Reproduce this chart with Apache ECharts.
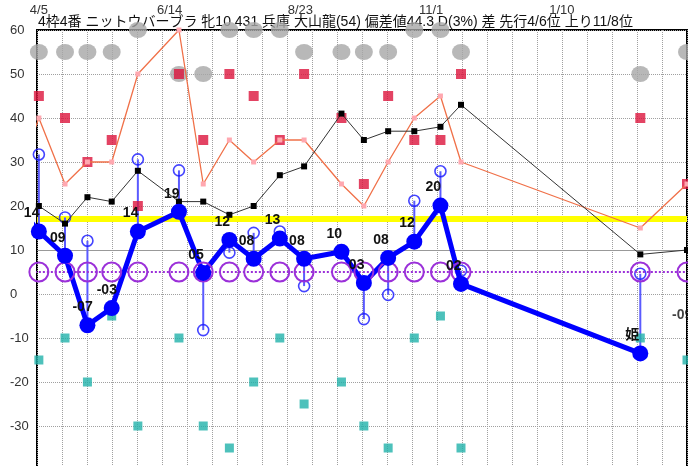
<!DOCTYPE html>
<html>
<head>
<meta charset="utf-8">
<script src="https://cdn.jsdelivr.net/npm/echarts@6/dist/echarts.min.js"></script>
<style>
  html, body { margin: 0; padding: 0; background: #fff; }
  #chart { width: 688px; height: 466px; }
</style>
</head>
<body>
<div id="chart"></div>
<script>
// x = days counted from 4/5, one entry per race
const raceDay = [0, 14, 26, 39, 53, 75, 88, 102, 115, 129, 142, 162, 174, 187, 201, 215, 226, 322, 347]
// the race before the window (lines start from it)
const prevDay = -15
const prevValue = 22

const grayMark = [55, 55, 55, 55, 60, 50, 50, 60, 60, 60, 55, 55, 55, 55, 60, 60, 55, 50, 55]
const redMark = [45, 40, 30, 35, 20, 50, 35, 50, 45, 35, 50, 40, 25, 45, 35, 35, 50, 40, 25]
const orangeLine = [40, 25, 30, 30, 50, 60, 25, 35, 30, 35, 35, 25, 20, 30, 40, 45, 30, 15, 25]
const blackLine = [20, 16, 22, 21, 28, 21, 21, 18, 20, 27, 29, 41, 35, 37, 37, 38, 43, 9, 10]
const purpleMark = [5, 5, 5, 5, 5, 5, 5, 5, 5, 5, 5, 5, 5, 5, 5, 5, 5, 5, 5]
const tealMark = [-15, -10, -20, -5, -30, -10, -30, -35, -20, -10, -25, -20, -30, -35, -10, -5, -35, -10, -15]
// blue: main value (filled) and the hollow one it is tied to
const blueMain = [14.2, 8.7, -7.1, -3.2, 14.2, 18.7, 4.8, 12.3, 8.0, 12.6, 8.0, 9.6, 2.5, 8.2, 11.9, 20.1, 2.3, -13.5]
const blueLabel = ['14', '09', '-07', '-03', '14', '19', '05', '12', '08', '13', '08', '10', '03', '08', '12', '20', '02', '姫']
const blueTop = [31.7, 17.4, 12.1, null, 30.6, 28.1, -8.2, 9.4, 13.9, 14.2, 1.8, null, -5.7, -0.2, 21.2, 27.9, 5.3, 4.6]
// last race: only its label is drawn
const nextValue = -9
const nextLabel = '-09'

const yellowLevel = 17
const solidLevel = 10

const dateTicks = [0, 70, 140, 210, 280, 350]
const dateLabels = ['4/5', '6/14', '8/23', '11/1', '1/10', '3/21']

const titleText = '4枠4番 ニットウバーブラ 牝10 431 兵庫 大山龍(54) 偏差値44.3 D(3%) 差 先行4/6位 上り11/8位'

const FONT = "Arial, 'Liberation Sans', 'Noto Sans CJK JP', sans-serif"
const BLUE = '#0000ff'
const PURPLE = '#9b30d9'

function pairs(vals) {
  return vals.map((v, i) => [raceDay[i], v])
}
function withPrev(vals) {
  return [{ value: [prevDay, prevValue], symbol: 'none', label: { show: false } }].concat(pairs(vals))
}

const tieData = []
const hollowData = []
blueTop.forEach((v, i) => {
  if (v === null) return
  tieData.push([raceDay[i], blueMain[i], v])
  hollowData.push([raceDay[i], v])
})

const chart = echarts.init(document.getElementById('chart'))

const option = {
  backgroundColor: '#fff',
  animation: false,
  title: {
    text: titleText,
    left: 33,
    top: 10,
    z: 0,
    textStyle: { fontSize: 14, fontWeight: 'normal', color: '#111', fontFamily: FONT }
  },
  grid: {
    left: 37,
    top: 30,
    width: 650,
    height: 440,
    outerBoundsMode: 'none',
    show: true,
    borderColor: '#000',
    borderWidth: 2,
    backgroundColor: 'transparent'
  },
  xAxis: [{
    // only draws the vertical grid
    type: 'value',
    min: 0,
    max: 26,
    interval: 1,
    position: 'bottom',
    axisLine: { show: false },
    axisTick: { show: false },
    axisLabel: { show: false },
    splitLine: { show: true, lineStyle: { color: '#a0a0a0', type: 'dotted', width: 1 } }
  }, {
    type: 'value',
    min: -1,
    max: 347,
    position: 'top',
    axisLine: { show: false },
    axisTick: { show: false },
    splitLine: { show: false },
    axisLabel: {
      customValues: dateTicks,
      margin: 13,
      fontSize: 13,
      color: '#333',
      fontFamily: FONT,
      formatter: v => dateLabels[dateTicks.indexOf(v)]
    }
  }],
  yAxis: {
    type: 'value',
    min: -40,
    max: 60,
    interval: 10,
    axisLine: { show: false },
    axisTick: { show: false },
    axisLabel: { align: 'left', margin: 27, fontSize: 13, color: '#333', fontFamily: FONT, showMinLabel: false },
    splitLine: { lineStyle: { color: '#a0a0a0', type: 'dotted', width: 1 } }
  },
  series: [{
    name: 'purple',
    type: 'line',
    xAxisIndex: 1,
    clip: false,
    data: [{ value: [prevDay, purpleMark[0]], symbol: 'none' }].concat(pairs(purpleMark)),
    symbol: 'circle',
    symbolSize: 19,
    lineStyle: { color: PURPLE, type: 'dotted', width: 2 },
    itemStyle: { color: 'rgba(0,0,0,0)', borderColor: PURPLE, borderWidth: 2 },
    markLine: {
      silent: true,
      z: 1,
      symbol: 'none',
      label: { show: false },
      data: [
        { yAxis: yellowLevel, lineStyle: { color: '#ffff00', width: 6, type: 'solid' } },
        { yAxis: solidLevel, lineStyle: { color: '#999', width: 1, type: 'solid' } }
      ]
    }
  }, {
    name: 'gray',
    type: 'scatter',
    xAxisIndex: 1,
    clip: false,
    data: pairs(grayMark),
    symbol: 'circle',
    symbolSize: [18, 16],
    itemStyle: { color: '#a6a6a6' }
  }, {
    name: 'orange',
    type: 'line',
    xAxisIndex: 1,
    clip: false,
    data: withPrev(orangeLine),
    symbol: 'rect',
    symbolSize: 5,
    lineStyle: { color: '#f07048', width: 1.3 },
    itemStyle: { color: '#ffa8b0' }
  }, {
    name: 'black',
    type: 'line',
    xAxisIndex: 1,
    clip: false,
    data: withPrev(blackLine),
    symbol: 'rect',
    symbolSize: 6,
    lineStyle: { color: '#333', width: 1 },
    itemStyle: { color: '#000' }
  }, {
    name: 'red',
    type: 'scatter',
    xAxisIndex: 1,
    clip: false,
    data: pairs(redMark),
    symbol: 'rect',
    symbolSize: 10,
    itemStyle: { color: '#dc143c' }
  }, {
    name: 'teal',
    type: 'scatter',
    xAxisIndex: 1,
    clip: false,
    data: pairs(tealMark),
    symbol: 'rect',
    symbolSize: 9,
    itemStyle: { color: '#20b2aa' }
  }, {
    name: 'tie',
    type: 'custom',
    xAxisIndex: 1,
    data: tieData,
    encode: { x: 0, y: [1, 2] },
    renderItem(params, api) {
      const a = api.coord([api.value(0), api.value(1)])
      const b = api.coord([api.value(0), api.value(2)])
      return {
        type: 'line',
        shape: { x1: a[0], y1: a[1], x2: b[0], y2: b[1] },
        style: { stroke: '#5a5aff', lineWidth: 2 }
      }
    }
  }, {
    name: 'hollow',
    type: 'scatter',
    xAxisIndex: 1,
    clip: false,
    data: hollowData,
    symbol: 'circle',
    symbolSize: 11,
    itemStyle: { color: 'rgba(0,0,0,0)', borderColor: '#1515ff', borderWidth: 1.6 }
  }, {
    name: 'main',
    type: 'line',
    xAxisIndex: 1,
    clip: false,
    data: withPrev(blueMain),
    symbol: 'circle',
    symbolSize: 16,
    lineStyle: { color: BLUE, width: 5 },
    itemStyle: { color: BLUE },
    label: {
      show: true,
      position: 'top',
      align: 'left',
      distance: 3,
      offset: [-15, 0],
      fontSize: 14,
      fontWeight: 'bold',
      color: '#111',
      fontFamily: FONT,
      formatter: p => blueLabel[p.dataIndex - 1]
    }
  }, {
    name: 'next',
    type: 'scatter',
    xAxisIndex: 1,
    clip: false,
    data: [[raceDay[raceDay.length - 1], nextValue]],
    symbolSize: 16,
    itemStyle: { color: 'rgba(0,0,0,0)' },
    label: {
      show: true,
      position: 'top',
      align: 'left',
      distance: 3,
      offset: [-15, 0],
      fontSize: 14,
      fontWeight: 'bold',
      color: '#111',
      fontFamily: FONT,
      formatter: () => nextLabel
    }
  }]
}

chart.setOption(option)
</script>
</body>
</html>
